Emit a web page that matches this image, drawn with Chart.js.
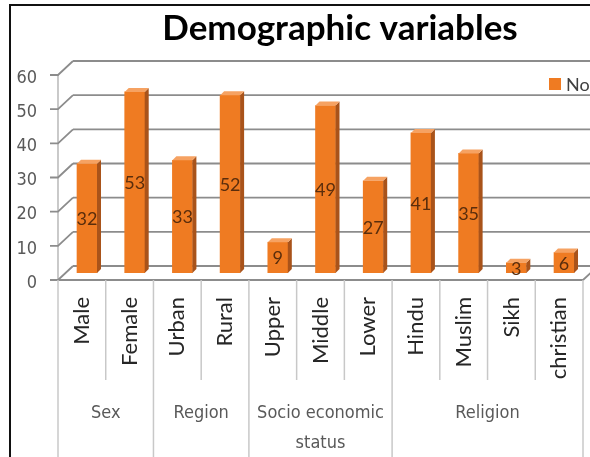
<!DOCTYPE html>
<html><head><meta charset="utf-8">
<script src="https://cdn.jsdelivr.net/npm/chart.js@4.4.1/dist/chart.umd.min.js"></script>
<style>html,body{margin:0;padding:0;background:#fff}#wrap{width:590px;height:457px;position:relative;overflow:hidden}</style>
</head><body><div id="wrap"><canvas id="c" width="590" height="457"></canvas></div>
<script>
const categories = ['Male','Female','Urban','Rural','Upper','Middle','Lower','Hindu','Muslim','Sikh','christian'];
const values = [32,53,33,52,9,49,27,41,35,3,6];
const groupNames = [['Sex'],['Region'],['Socio economic','status'],['Religion']];
const groupSizes = [2,2,3,4];
const yTicks = [0,10,20,30,40,50,60];
const seriesName = 'No';
const chartTitle = 'Demographic variables';

const ORANGE = '#EF7B22', SIDE = '#A9531A', TOP = '#F6A262';
const OFF = 7;

const deco = {
  id: 'deco',
  beforeDraw(chart) {
    const {ctx, scales:{y}, chartArea:ca} = chart;
    ctx.save();
    ctx.fillStyle = '#fff'; ctx.fillRect(0,0,chart.width,chart.height);
    ctx.lineWidth = 1.8;
    ctx.beginPath();
    ctx.moveTo(ca.left, y.getPixelForValue(60)+OFF); ctx.lineTo(ca.left, y.getPixelForValue(0)+OFF);
    ctx.strokeStyle = '#c4c4c4'; ctx.stroke();
    ctx.strokeStyle = '#8c8c8c';
    yTicks.forEach(v => {
      const py = y.getPixelForValue(v);
      const yb = py - OFF, yf = py + OFF;
      ctx.beginPath(); ctx.moveTo(ca.left+15, yb); ctx.lineTo(chart.width, yb); ctx.stroke();
      ctx.beginPath(); ctx.moveTo(ca.left-8, yf); ctx.lineTo(ca.left, yf); ctx.lineTo(ca.left+15, yb); ctx.stroke();
    });
    const y0 = y.getPixelForValue(0)+OFF;
    ctx.beginPath(); ctx.moveTo(ca.left, y0); ctx.lineTo(ca.right, y0); ctx.lineTo(ca.right+15, y0-2*OFF); ctx.stroke();
    ctx.restore();
  },
  afterDatasetsDraw(chart) {
    const {ctx} = chart;
    const meta = chart.getDatasetMeta(0);
    const d = 4;
    ctx.save();
    meta.data.forEach((bar, i) => {
      const p = bar.getProps(['x','y','base','width'], true);
      const x0 = p.x - p.width/2, x1 = p.x + p.width/2;
      ctx.fillStyle = SIDE;
      ctx.beginPath(); ctx.moveTo(x1, p.y); ctx.lineTo(x1+d, p.y-d); ctx.lineTo(x1+d, p.base-d); ctx.lineTo(x1, p.base); ctx.closePath(); ctx.fill();
      ctx.fillStyle = TOP;
      ctx.beginPath(); ctx.moveTo(x0, p.y); ctx.lineTo(x1, p.y); ctx.lineTo(x1+d, p.y-d); ctx.lineTo(x0+d, p.y-d); ctx.closePath(); ctx.fill();
      ctx.fillStyle = '#5a2d0c';
      ctx.font = '18px Lato';
      ctx.textAlign = 'center'; ctx.textBaseline = 'middle';
      ctx.fillText(String(values[i]), p.x, (p.y + p.base)/2 + 1);
    });
    ctx.restore();
  },
  afterDraw(chart) {
    const {ctx, scales:{x, y}, chartArea:ca} = chart;
    ctx.save();
    const yTop = y.getPixelForValue(0)+OFF;
    const n = categories.length;
    const bounds = [];
    for (let i = 0; i <= n; i++) {
      if (i === 0) bounds.push(ca.left);
      else if (i === n) bounds.push(ca.right);
      else bounds.push((x.getPixelForValue(i-1) + x.getPixelForValue(i))/2);
    }
    const groupEdges = [0]; groupSizes.forEach(s => groupEdges.push(groupEdges[groupEdges.length-1]+s));
    ctx.strokeStyle = '#c8c8c8'; ctx.lineWidth = 1.5;
    bounds.forEach((bx, i) => {
      const isGroup = groupEdges.includes(i);
      ctx.beginPath(); ctx.moveTo(bx, yTop); ctx.lineTo(bx, isGroup ? chart.height : 380); ctx.stroke();
    });
    ctx.fillStyle = '#595959';
    ctx.font = '18px "DejaVu Sans Condensed"';
    ctx.textAlign = 'center'; ctx.textBaseline = 'middle';
    groupNames.forEach((lines, g) => {
      const cx = (bounds[groupEdges[g]] + bounds[groupEdges[g+1]])/2;
      lines.forEach((t, k) => ctx.fillText(t, cx, 413 + k*30));
    });
    ctx.fillStyle = '#000'; ctx.font = 'bold 35px Lato';
    ctx.fillText(chartTitle, 340, 29);
    ctx.fillStyle = ORANGE; ctx.fillRect(549, 78, 12, 12);
    ctx.fillStyle = '#404040'; ctx.font = '18px Lato'; ctx.textAlign = 'left';
    ctx.fillText(seriesName, 566, 85);
    ctx.strokeStyle = '#111'; ctx.lineWidth = 2;
    ctx.beginPath(); ctx.moveTo(10, chart.height); ctx.lineTo(10, 5); ctx.lineTo(chart.width, 5); ctx.stroke();
    ctx.restore();
  }
};

new Chart(document.getElementById('c'), {
  type: 'bar',
  data: {
    labels: categories,
    datasets: [{
      label: seriesName,
      data: values.map((v, i) => ({x: i, y: v})),
      xAxisID: 'xb', yAxisID: 'y',
      backgroundColor: ORANGE,
      borderWidth: 0,
      barThickness: 20
    }]
  },
  options: {
    responsive: false,
    animation: false,
    devicePixelRatio: 1,
    layout: {padding: {left: 0, right: 7, top: 68, bottom: 0}},
    plugins: {
      legend: {display: false},
      tooltip: {enabled: false},
      title: {display: false}
    },
    scales: {
      x: {
        type: 'category', position: 'bottom',
        grid: {display: false, drawTicks: false}, border: {display: false},
        ticks: {autoSkip: false, minRotation: 90, maxRotation: 90, padding: 24,
          color: '#262626', font: {family: 'Lato', size: 22}},
        afterFit: s => { s.height = 184; s.paddingLeft = 0; s.paddingRight = 0; }
      },
      xb: {
        type: 'linear', display: false, offset: false, grid: {offset: false},
        min: -0.608, max: 10.398
      },
      y: {
        type: 'linear', min: 0, max: 60,
        grid: {display: false, drawTicks: false}, border: {display: false},
        ticks: {stepSize: 10, padding: 21, labelOffset: 10, color: '#595959',
          font: {family: 'DejaVu Sans Condensed', size: 18}},
        afterFit: s => { s.width = 58; s.paddingTop = 0; s.paddingBottom = 0; }
      }
    }
  },
  plugins: [deco]
});
</script>
</body></html>
